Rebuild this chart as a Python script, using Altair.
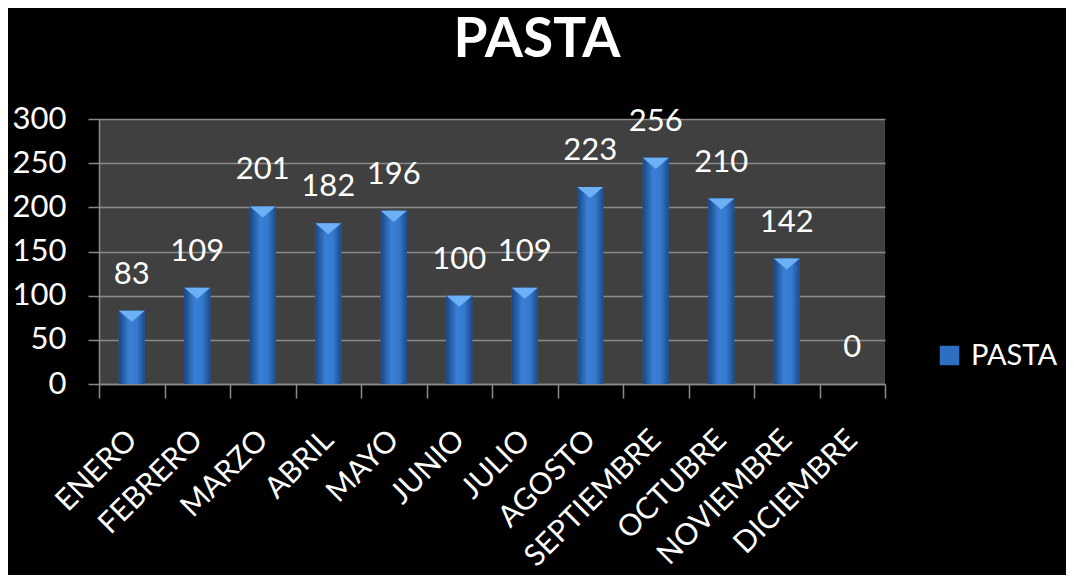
import altair as alt
import pandas as pd

months = ["ENERO", "FEBRERO", "MARZO", "ABRIL", "MAYO", "JUNIO", "JULIO",
          "AGOSTO", "SEPTIEMBRE", "OCTUBRE", "NOVIEMBRE", "DICIEMBRE"]
values = [83, 109, 201, 182, 196, 100, 109, 223, 256, 210, 142, 0]
series_name = "PASTA"
y_ticks = [0, 50, 100, 150, 200, 250, 300]

df = pd.DataFrame({"mes": months, "valor": values, "serie": [series_name] * len(months)})

FONT = "Lato"
GRAY = "#8a8a8a"

x = alt.X("mes:N", sort=months, title=None,
          scale=alt.Scale(paddingInner=0, paddingOuter=0),
          axis=alt.Axis(labelAngle=315, labelAlign="right", labelBaseline="middle",
                        labelFontSize=30, labelColor="white", labelFont=FONT,
                        labelLimit=500, labelPadding=37, tickSize=14, tickColor=GRAY,
                        tickWidth=1.5, tickBand="extent", domainColor=GRAY, domainWidth=1.5,
                        grid=False))
y = alt.Y("valor:Q", title=None,
          scale=alt.Scale(domain=[0, 300], nice=False),
          axis=alt.Axis(values=y_ticks, labelFontSize=31, labelColor="white", labelFont=FONT,
                        labelPadding=22, tickSize=11, tickColor=GRAY, tickWidth=1.5,
                        domainColor=GRAY, domainWidth=1.5,
                        grid=True, gridColor=GRAY, gridWidth=1.5))

base_bar = alt.Chart(df).mark_bar(size=26).encode(
    x=x, y=y,
    color=alt.Color("serie:N", scale=alt.Scale(range=["#2f6fc2"]),
                    legend=alt.Legend(title=None, orient="none", legendX=836, legendY=222,
                                      symbolType="square", symbolSize=380,
                                      symbolStrokeWidth=0, symbolOpacity=1,
                                      labelFontSize=29, labelColor="white", labelFont=FONT,
                                      labelOffset=7))
)

grad = alt.Gradient(
    gradient="linear", x1=0, x2=1, y1=0, y2=0,
    stops=[alt.GradientStop(color="#1a4584", offset=0),
           alt.GradientStop(color="#3a80d6", offset=0.4),
           alt.GradientStop(color="#3479cc", offset=0.7),
           alt.GradientStop(color="#1c4a8c", offset=1)])

grad_bar = alt.Chart(df).mark_bar(size=26, fill=grad).encode(x=x, y=y)

tri = alt.Chart(df).transform_filter("datum.valor > 0").mark_point(
    shape="M-1,0L1,0L0,0.85Z", filled=True, fill="#6cb0f6", opacity=1,
    size=676, strokeWidth=0).encode(x=x, y=y)

labels = alt.Chart(df).mark_text(
    baseline="alphabetic", dy=-27, fontSize=31, color="white", font=FONT
).encode(x=x, y=y, text=alt.Text("valor:Q"))

chart = alt.layer(base_bar, grad_bar, tri, labels).properties(
    width=786, height=265,
    title=alt.TitleParams(series_name, fontSize=55, font=FONT, fontWeight="bold",
                          color="white", dx=45, offset=34, anchor="middle"),
    background="black",
    autosize=alt.AutoSizeParams(type="none"),
    padding={"left": 91, "top": 111, "right": 181, "bottom": 191},
).configure_view(fill="#404040", stroke=None)

chart.save("out.html", embed_options={"renderer": "svg", "actions": False})
